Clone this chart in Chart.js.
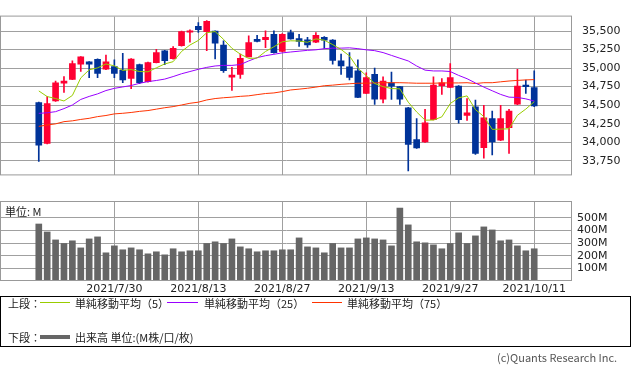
<!DOCTYPE html>
<html>
<head>
<meta charset="utf-8">
<script src="https://cdn.jsdelivr.net/npm/chart.js@4.4.0/dist/chart.umd.min.js"></script>
<style>
  body { margin: 0; width: 633px; height: 372px; background: #fff; position: relative; overflow: hidden; font-family: "Noto Sans CJK JP", sans-serif; }
  canvas { position: absolute; left: 0; }
  #price { top: 0; }
  #vol { top: 190px; }
  .t { position: absolute; font-size: 11px; line-height: 14px; color: #222; white-space: nowrap; }
  .ln { position: absolute; height: 1px; }
  #box { position: absolute; left: 0; top: 296px; width: 629px; height: 49px; border: 1px solid #000; }
</style>
</head>
<body>
<canvas id="price" width="633" height="192"></canvas>
<canvas id="vol" width="633" height="110"></canvas>

<div class="t" style="left:5px;top:204px">単位: M</div>

<div id="box"></div>
<div class="t" style="left:8px;top:296px">上段：</div>
<div class="ln" style="left:40px;top:302px;width:30px;background:#99cc00"></div>
<div class="t" style="left:75px;top:296px">単純移動平均（5）</div>
<div class="ln" style="left:167px;top:302px;width:31px;background:#9900ff"></div>
<div class="t" style="left:204px;top:296px">単純移動平均（25）</div>
<div class="ln" style="left:312px;top:302px;width:30px;background:#ff3300"></div>
<div class="t" style="left:347px;top:296px">単純移動平均（75）</div>
<div class="t" style="left:8px;top:330px">下段：</div>
<div class="ln" style="left:40px;top:335px;width:30px;height:4px;background:#666"></div>
<div class="t" style="left:75px;top:330px">出来高 単位:(M株/口/枚)</div>

<div class="t" style="left:497px;top:350px;color:#555">(c)Quants Research Inc.</div>

<script>
// trading days shown on the chart
const dates = [
  '2021/7/19','2021/7/20','2021/7/21','2021/7/22','2021/7/23','2021/7/26','2021/7/27','2021/7/28','2021/7/29','2021/7/30',
  '2021/8/2','2021/8/3','2021/8/4','2021/8/5','2021/8/6','2021/8/9','2021/8/10','2021/8/11','2021/8/12','2021/8/13',
  '2021/8/16','2021/8/17','2021/8/18','2021/8/19','2021/8/20','2021/8/23','2021/8/24','2021/8/25','2021/8/26','2021/8/27',
  '2021/8/30','2021/8/31','2021/9/1','2021/9/2','2021/9/3','2021/9/7','2021/9/8','2021/9/9','2021/9/10','2021/9/13',
  '2021/9/14','2021/9/15','2021/9/16','2021/9/17','2021/9/20','2021/9/21','2021/9/22','2021/9/23','2021/9/24','2021/9/27',
  '2021/9/28','2021/9/29','2021/9/30','2021/10/1','2021/10/4','2021/10/5','2021/10/6','2021/10/7','2021/10/8','2021/10/11'
];

const opens = [34533,33983,34558,34796,34849,35055,35086,35120,34987,35021,
  34973,34860,35048,34818,35074,35232,35127,35304,35484,35563,
  35492,35500,35311,34879,34916,35153,35390,35383,35458,35225,
  35481,35398,35383,35349,35415,35379,35097,35018,34965,34660,
  34916,34581,34803,34750,34465,34036,34002,34303,34762,34739,
  34758,34360,34476,33926,34318,34028,34197,34513,34770,34736];
const highs = [34540,34615,34826,34886,35097,35155,35090,35125,35176,35112,
  35199,35130,35055,35080,35255,35240,35292,35500,35518,35616,
  35642,35505,35368,35010,35191,35436,35444,35503,35503,35465,
  35515,35458,35417,35481,35425,35385,35191,35210,35112,34935,
  34999,34882,34947,34755,34470,34318,34443,34882,34860,35063,
  34765,34589,34570,34499,34420,34499,34442,34984,34837,34962];
const lows = [33739,33975,34550,34671,34845,34954,34871,34871,34980,34871,
  34803,34721,34789,34810,35070,35048,35120,35295,35349,35481,
  35236,35123,34942,34698,34860,35150,35355,35278,35202,35220,
  35390,35292,35281,35345,35266,35055,34916,34841,34600,34655,
  34510,34529,34578,34510,33610,33915,33998,34300,34645,34735,
  34258,34295,33836,33784,33829,34020,33847,34505,34660,34480];
const closes = [33960,34521,34803,34826,35063,35153,35055,34928,35086,34928,
  34841,35123,34803,35074,35210,35100,35266,35492,35503,35518,
  35631,35337,34965,34905,35131,35345,35360,35417,35210,35458,
  35394,35360,35315,35444,35378,35105,35029,34875,34604,34871,
  34581,34826,34755,34581,33971,33921,34262,34770,34803,34871,
  34303,34397,33847,34329,34002,34318,34420,34758,34750,34491];

const ma5 = [34692,34616,34589,34556,34631,34868,34977,35004,35056,35031,
  34969,34981,34954,34950,35004,35057,35087,35225,35312,35374,
  35478,35494,35389,35268,35189,35131,35136,35225,35289,35356,
  35369,35367,35349,35395,35377,35318,35252,35165,34998,34898,
  34793,34750,34724,34720,34540,34408,34297,34299,34342,34522,
  34598,34625,34440,34346,34173,34176,34181,34363,34447,34546];
const ma25 = [34389,34397,34412,34453,34502,34577,34618,34652,34697,34727,
  34746,34765,34795,34818,34833,34852,34886,34924,34954,34984,
  35010,35029,35037,35037,35048,35097,35142,35168,35187,35206,
  35218,35229,35240,35247,35263,35270,35270,35274,35263,35247,
  35236,35210,35172,35134,35097,35029,34973,34962,34962,34954,
  34902,34857,34800,34744,34694,34645,34608,34604,34585,34555];
const ma75 = [34213,34232,34247,34277,34288,34307,34322,34345,34360,34382,
  34390,34401,34416,34427,34446,34465,34480,34502,34525,34540,
  34570,34589,34600,34608,34619,34626,34642,34657,34665,34683,
  34705,34716,34728,34744,34762,34770,34781,34789,34796,34796,
  34800,34803,34803,34803,34800,34796,34796,34796,34800,34800,
  34800,34803,34792,34803,34803,34815,34826,34834,34841,34845];

// volume in millions
const volumes = [451,388,325,297,318,262,333,349,223,278,
  247,262,247,215,231,207,255,231,239,239,
  297,310,297,333,270,255,231,239,239,247,
  247,341,270,262,223,297,262,262,333,341,
  333,325,278,577,444,310,302,286,255,297,
  381,297,357,428,404,318,325,278,239,255];

const dateTickLabels = ['2021/7/30','2021/8/13','2021/8/27','2021/9/13','2021/9/27','2021/10/11'];
const priceTicks = [33750,34000,34250,34500,34750,35000,35250,35500];
const volTicks = [100,200,300,400,500];

const UP = '#ff0033';
const DOWN = '#003399';
const GRID = '#a0a0a0';
const LABEL_FONT = { family: "'DejaVu Sans', sans-serif", size: 11 };

const tickIdx = dateTickLabels.map(d => dates.indexOf(d));
const candleColors = closes.map((c, i) => c >= opens[i] ? UP : DOWN);

const frame = {
  id: 'frame',
  afterDatasetsDraw(chart) {
    const { ctx, chartArea: a } = chart;
    ctx.save();
    ctx.strokeStyle = '#999';
    ctx.lineWidth = 1;
    ctx.strokeRect(a.left - 0.5, a.top - 0.5, a.right - a.left, a.bottom - a.top);
    ctx.restore();
  }
};

function xScale(showLabels, h) {
  return {
    type: 'linear',
    min: -4.5,
    max: 63.5,
    offset: false,
    afterBuildTicks: s => { s.ticks = tickIdx.map(v => ({ value: v })); },
    afterFit: s => { s.height = h; },
    grid: { color: GRID, drawTicks: false, offset: false },
    border: { display: false },
    ticks: {
      display: showLabels,
      padding: 2,
      color: '#222',
      font: LABEL_FONT,
      maxRotation: 0,
      autoSkip: false,
      callback: v => dates[v],
    },
  };
}

const lineDs = (data, color) => ({
  type: 'line',
  data: data.map((v, i) => ({ x: i, y: v })),
  borderColor: color,
  borderWidth: 1,
  pointRadius: 0,
  tension: 0,
  fill: false,
  order: 0,
});

new Chart(document.getElementById('price'), {
  type: 'bar',
  data: {
    datasets: [
      lineDs(ma5, '#99cc00'),
      lineDs(ma25, '#9900ff'),
      lineDs(ma75, '#ff3300'),
      {
        data: opens.map((o, i) => ({ x: i, y: [o, closes[i]] })),
        backgroundColor: candleColors,
        barThickness: 6,
        minBarLength: 1,
        grouped: false,
        order: 1,
      },
      {
        data: lows.map((l, i) => ({ x: i, y: [l, highs[i]] })),
        backgroundColor: candleColors,
        barThickness: 1,
        grouped: false,
        order: 2,
      },
    ],
  },
  options: {
    responsive: false,
    animation: false,
    events: [],
    layout: { padding: { left: 1, top: 1, right: 0, bottom: 1 } },
    plugins: { legend: { display: false }, tooltip: { enabled: false } },
    scales: {
      x: xScale(false, 0),
      y: {
        position: 'right',
        min: 33551,
        max: 35696,
        afterBuildTicks: s => { s.ticks = priceTicks.map(v => ({ value: v })); },
        afterFit: s => { s.width = 61; },
        grid: { color: GRID, drawTicks: false },
        border: { display: false },
        ticks: {
          padding: 10,
          color: '#222',
          font: LABEL_FONT,
          callback: v => v.toLocaleString('en-US'),
        },
      },
    },
  },
  plugins: [frame],
});

new Chart(document.getElementById('vol'), {
  type: 'bar',
  data: {
    datasets: [{
      data: volumes.map((v, i) => ({ x: i, y: v })),
      backgroundColor: '#666666',
      barThickness: 6,
    }],
  },
  options: {
    responsive: false,
    animation: false,
    events: [],
    layout: { padding: { left: 1, top: 12, right: 0, bottom: 0 } },
    plugins: { legend: { display: false }, tooltip: { enabled: false } },
    scales: {
      x: xScale(true, 19),
      y: {
        position: 'right',
        min: 0,
        max: 625,
        afterBuildTicks: s => { s.ticks = volTicks.map(v => ({ value: v })); },
        afterFit: s => { s.width = 61; },
        grid: { color: GRID, drawTicks: false },
        border: { display: false },
        ticks: {
          padding: 5,
          color: '#222',
          font: LABEL_FONT,
          callback: v => v + 'M',
        },
      },
    },
  },
  plugins: [frame],
});
</script>
</body>
</html>
